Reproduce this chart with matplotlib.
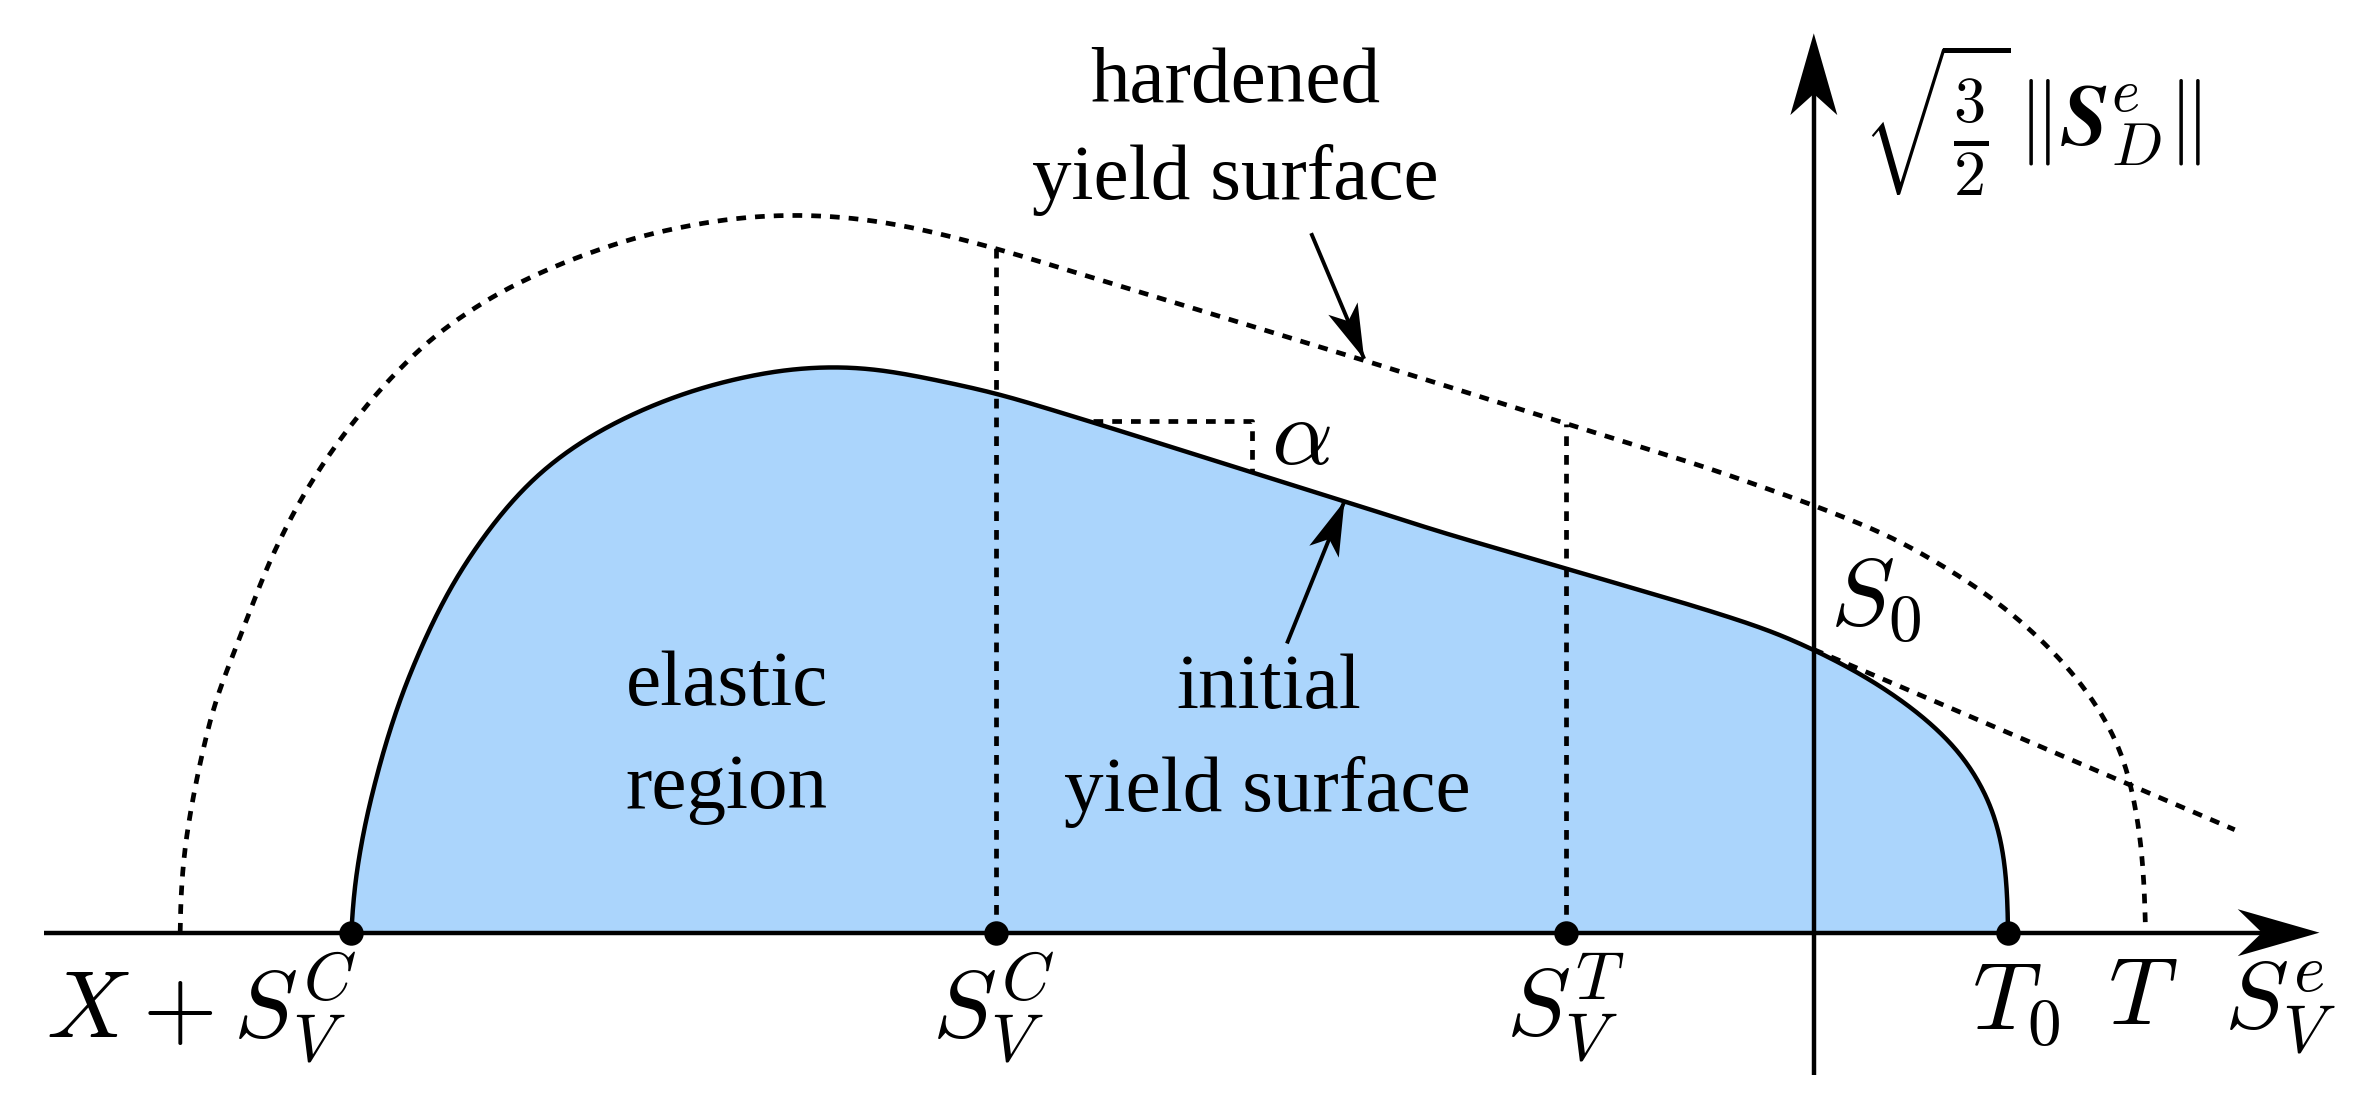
import matplotlib
matplotlib.use("Agg")
import matplotlib.pyplot as plt
import numpy as np
from matplotlib.path import Path
from matplotlib.patches import PathPatch, Polygon

plt.rcParams['mathtext.fontset'] = 'cm'
plt.rcParams['font.family'] = ['Liberation Serif', 'DejaVu Serif']
plt.rcParams['lines.scale_dashes'] = False

# Values: x runs along S_V^e (origin at the vertical axis),
# y is the equivalent deviatoric stress.
initial_x = [-966, -964.5, -957, -945, -932, -914, -898, -879, -860, -838, -808, -773, -737.5, -702, -675.5,
             -646, -619.5, -590, -540, -476, -371, -310, -248, -164, -119, -83, -48, -24, 0,
             29, 52, 73, 96.5, 108, 118, 124.7, 127.8, 128.3, 128.3]
initial_y = [0, 29, 73, 120, 160, 202, 233, 261.5, 285.7, 307.7, 328.7, 346.3, 359.5, 368.3, 372.7,
             374.2, 372.7, 367.2, 356.5, 337, 304, 285, 265, 240.6, 227.4, 217, 206, 198, 187,
             172.4, 158, 142.6, 120.6, 103, 84.5, 60, 33.5, 10, 0]
hardened_x = [-1079, -1079, -1076, -1068, -1057, -1036, -1021, -1000, -977.6, -947, -913, -871, -826, -777,
              -731, -701, -667, -629, -591, -540, -297, -164, -69, 0, 52, 94, 126, 155.5, 179, 191,
              204, 211, 216, 218.5, 219]
hardened_y = [0, 22, 59, 103, 151, 204, 244, 286, 321, 359.5, 393.6, 422, 443, 460,
              469.6, 473.3, 474.4, 471.8, 465.2, 452, 378, 336.4, 306.7, 282.4, 261.5, 237.3, 215.3, 189, 162.5, 144,
              120, 92, 63, 30, 5]
tangent_x = [0, 278]
tangent_y = [187, 68]
crit_x = [-966, -540, -164, 128.5]
guide_top = [452, 336]
slope_x = [-476, -371]
slope_y = [338, 305]
axis_x = [-1169, 334]
axis_y = [-94, 594]

W, H = 1568, 728.5
fig = plt.figure(figsize=(23.74, 11.03), dpi=100)
ax = fig.add_axes([0, 0, 1, 1])
ax.set_xlim(-1198, W - 1198)
ax.set_ylim(-112.5, 616)
ax.axis('off')


def smooth(xs, ys, sigma=18.0):
    """Evens out reading noise: Gaussian average along the arc, with the ends held fixed."""
    xs, ys = np.asarray(xs, float), np.asarray(ys, float)
    s = np.r_[0, np.cumsum(np.hypot(np.diff(xs), np.diff(ys)))]
    t = np.arange(0, s[-1], 1.0)
    t = np.r_[t, s[-1]]
    out = []
    k = np.arange(-int(4 * sigma), int(4 * sigma) + 1)
    g = np.exp(-0.5 * (k / sigma) ** 2)
    g /= g.sum()
    m = len(k) // 2
    for v in (xs, ys):
        u = np.interp(t, s, v)
        pad = np.r_[2 * u[0] - u[m:0:-1], u, 2 * u[-1] - u[-2:-m - 2:-1]]
        out.append(np.convolve(pad, g, mode='valid'))
    return Path(np.column_stack(out))


def head(tip, start, length, width, notch):
    tip, start = np.array(tip, float), np.array(start, float)
    d = (tip - start) / np.hypot(*(tip - start))
    n = np.array([-d[1], d[0]])
    base = tip - d * length
    return Polygon([tip, base + n * width / 2, tip - d * notch, base - n * width / 2],
                   closed=True, fc='k', ec='none', zorder=8)


LW = 3.2
DLW = 3.4
DASH = (0, (7, 6.5))

p0 = smooth(initial_x, initial_y)
ax.add_patch(PathPatch(p0, fc='#ABD5FC', ec='none', zorder=1))
ax.add_patch(PathPatch(p0, fc='none', ec='k', lw=LW, zorder=4))
ax.add_patch(PathPatch(smooth(hardened_x, hardened_y), fc='none', ec='k', lw=DLW, ls=DASH, zorder=3))

ax.plot(tangent_x, tangent_y, color='k', lw=DLW, ls=DASH, zorder=3)
for x, top in zip(crit_x[1:3], guide_top):
    ax.plot([x, x], [0, top], color='k', lw=DLW, ls=DASH, zorder=3)
ax.plot([slope_x[0], slope_x[1], slope_x[1]], [slope_y[0], slope_y[0], slope_y[1]],
        color='k', lw=DLW, ls=DASH, zorder=3)

# axes
ax.plot([axis_x[0], axis_x[1] - 30], [0, 0], color='k', lw=LW, zorder=5, solid_capstyle='butt')
ax.plot([0, 0], [axis_y[0], axis_y[1] - 30], color='k', lw=LW, zorder=5, solid_capstyle='butt')
ax.add_patch(head((axis_x[1], 0), (axis_x[0], 0), 54, 31, 38))
ax.add_patch(head((0, axis_y[1]), (0, axis_y[0]), 54, 31, 40))
ax.scatter(crit_x, [0] * 4, s=310, color='k', zorder=7, linewidths=0)

# leader arrows
lead_h = [(-332, 462), (-297, 379)]
lead_i = [(-348, 191), (-310, 285)]
for (s, t) in (lead_h, lead_i):
    ax.plot([s[0], t[0]], [s[1], t[1]], color='k', lw=2.8, zorder=6, solid_capstyle='butt')
    ax.add_patch(head(t, s, 36, 21, 27))

# texts
FS = 57
for s, x, y in [('hardened', -382, 561), ('yield surface', -382, 497),
                ('elastic', -718, 163), ('region', -718, 95),
                ('initial', -360, 161), ('yield surface', -361, 93)]:
    ax.text(x, y, s, fontsize=FS, ha='center', va='center', color='k', zorder=9)

MS = 69
labels = [(r'$X+S_V^C$', -1065, -50), (r'$S_V^C$', -542, -50), (r'$S_V^T$', -164, -50),
          (r'$T_0$', 134, -48), (r'$T$', 217, -45), (r'$S_V^e$', 308, -50),
          (r'$S_0$', 41, 219), (r'$\alpha$', -339, 325)]
for s, x, y in labels:
    ax.text(x, y, s, fontsize=MS, ha='center', va='center', color='k', zorder=9)

ax.text(32, 537, r'$\sqrt{\frac{3}{2}}$', fontsize=66, ha='left', va='center', color='k', zorder=9)
ax.text(195, 535, r'$\Vert\boldsymbol{S}_D^e\Vert$', fontsize=62, ha='center', va='center',
        color='k', zorder=9)

fig.savefig('out.png', dpi=100)
